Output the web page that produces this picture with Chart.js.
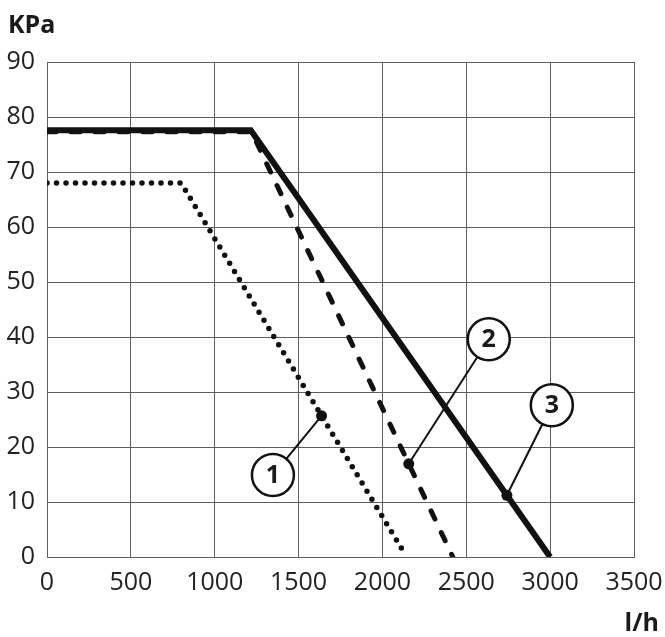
<!DOCTYPE html>
<html>
<head>
<meta charset="utf-8">
<script src="https://cdn.jsdelivr.net/npm/chart.js@4/dist/chart.umd.min.js"></script>
<style>
  html, body { margin: 0; padding: 0; background: #fff; }
  #wrap { width: 665px; height: 637px; position: relative; }
</style>
</head>
<body>
<div id="wrap"><canvas id="c" width="665" height="637"></canvas></div>
<script>
// ---- data ----
const xTicks = [0, 500, 1000, 1500, 2000, 2500, 3000, 3500];
const yTicks = [0, 10, 20, 30, 40, 50, 60, 70, 80, 90];
const flow1 = [0, 800, 2125];
const pres1 = [68, 68, 1];
const flow2 = [0, 1220, 2420];
const pres2 = [77.3, 77.3, 0];
const flow3 = [0, 1215, 3000];
const pres3 = [77.6, 77.6, 0];
const calloutLabels = ['1', '2', '3'];
const calloutMarkFlow = [1637, 2157, 2742];   // point on curve where the leader ends
const calloutBubbleFlow = [1347, 2634, 3010];
const calloutBubblePres = [14.9, 39.6, 27.6];
const yTitle = 'KPa';
const xTitle = 'l/h';

const series = [[flow1, pres1], [flow2, pres2], [flow3, pres3]];
function pts(fx, fy) { return fx.map((x, i) => ({x: x, y: fy[i]})); }
function interp(fx, fy, x) {
  for (let i = 0; i < fx.length - 1; i++) {
    if (x >= fx[i] && x <= fx[i + 1]) {
      const t = (x - fx[i]) / (fx[i + 1] - fx[i]);
      return fy[i] + t * (fy[i + 1] - fy[i]);
    }
  }
  return fy[fy.length - 1];
}

const FONT = '"Open Sans", "DejaVu Sans", sans-serif';

const callouts = {
  id: 'callouts',
  afterDatasetsDraw(chart) {
    const ctx = chart.ctx, xs = chart.scales.x, ys = chart.scales.y;
    ctx.save();
    calloutLabels.forEach((lab, i) => {
      const s = series[i];
      const mx = xs.getPixelForValue(calloutMarkFlow[i]);
      const my = ys.getPixelForValue(interp(s[0], s[1], calloutMarkFlow[i]));
      const bx = xs.getPixelForValue(calloutBubbleFlow[i]);
      const by = ys.getPixelForValue(calloutBubblePres[i]);
      const r = 21;
      ctx.strokeStyle = '#111';
      ctx.lineWidth = 2;
      ctx.beginPath();
      ctx.moveTo(bx, by);
      ctx.lineTo(mx, my);
      ctx.stroke();
      ctx.fillStyle = '#111';
      ctx.beginPath();
      ctx.arc(mx, my, 5.5, 0, Math.PI * 2);
      ctx.fill();
      ctx.fillStyle = '#fff';
      ctx.lineWidth = 2.5;
      ctx.beginPath();
      ctx.arc(bx, by, r, 0, Math.PI * 2);
      ctx.fill();
      ctx.stroke();
      ctx.fillStyle = '#1a1a1a';
      ctx.font = 'bold 25px ' + FONT;
      ctx.textAlign = 'center';
      ctx.textBaseline = 'middle';
      ctx.fillText(lab, bx, by + 1);
    });
    ctx.restore();
  }
};

const titles = {
  id: 'titles',
  afterDraw(chart) {
    const ctx = chart.ctx;
    ctx.save();
    ctx.fillStyle = '#1a1a1a';
    ctx.font = 'bold 25px ' + FONT;
    ctx.textBaseline = 'alphabetic';
    ctx.textAlign = 'left';
    ctx.fillText(yTitle, 8, 33);
    ctx.textAlign = 'right';
    ctx.fillText(xTitle, 659, 631);
    ctx.restore();
  }
};

new Chart(document.getElementById('c'), {
  type: 'line',
  data: {
    datasets: [
      { data: pts(flow1, pres1), borderColor: '#111', borderWidth: 5.5,
        borderDash: [0, 9.5], borderCapStyle: 'round', pointRadius: 0, tension: 0, order: 2 },
      { data: pts(flow2, pres2), borderColor: '#111', borderWidth: 5,
        borderDash: [9, 15], borderCapStyle: 'round', pointRadius: 0, tension: 0, order: 1 },
      { data: pts(flow3, pres3), borderColor: '#111', borderWidth: 6,
        pointRadius: 0, tension: 0, order: 0 }
    ]
  },
  options: {
    responsive: false,
    animation: false,
    events: [],
    layout: { padding: { top: 62, right: 31, left: 0, bottom: 0 } },
    plugins: { legend: { display: false }, tooltip: { enabled: false } },
    scales: {
      x: {
        type: 'linear', min: 0, max: 3500,
        afterBuildTicks: (s) => { s.ticks = xTicks.map(v => ({value: v})); },
        afterFit: (s) => { s.height = 80; s.paddingRight = 0; s.paddingLeft = 0; },
        grid: { color: '#5e5e5e', lineWidth: 1, drawTicks: false },
        border: { color: '#5e5e5e', width: 1 },
        ticks: { padding: 11, color: '#222', font: { family: FONT, size: 25 }, maxRotation: 0,
                 autoSkip: false, callback: (v) => String(v) }
      },
      y: {
        min: 0, max: 90,
        afterBuildTicks: (s) => { s.ticks = yTicks.map(v => ({value: v})); },
        afterFit: (s) => { s.width = 47; s.paddingTop = 0; s.paddingBottom = 0; },
        grid: { color: '#5e5e5e', lineWidth: 1, drawTicks: false },
        border: { color: '#5e5e5e', width: 1 },
        ticks: { padding: 12, color: '#222', font: { family: FONT, size: 25 }, autoSkip: false,
                 callback: (v) => String(v) }
      }
    }
  },
  plugins: [callouts, titles]
});
</script>
</body>
</html>
